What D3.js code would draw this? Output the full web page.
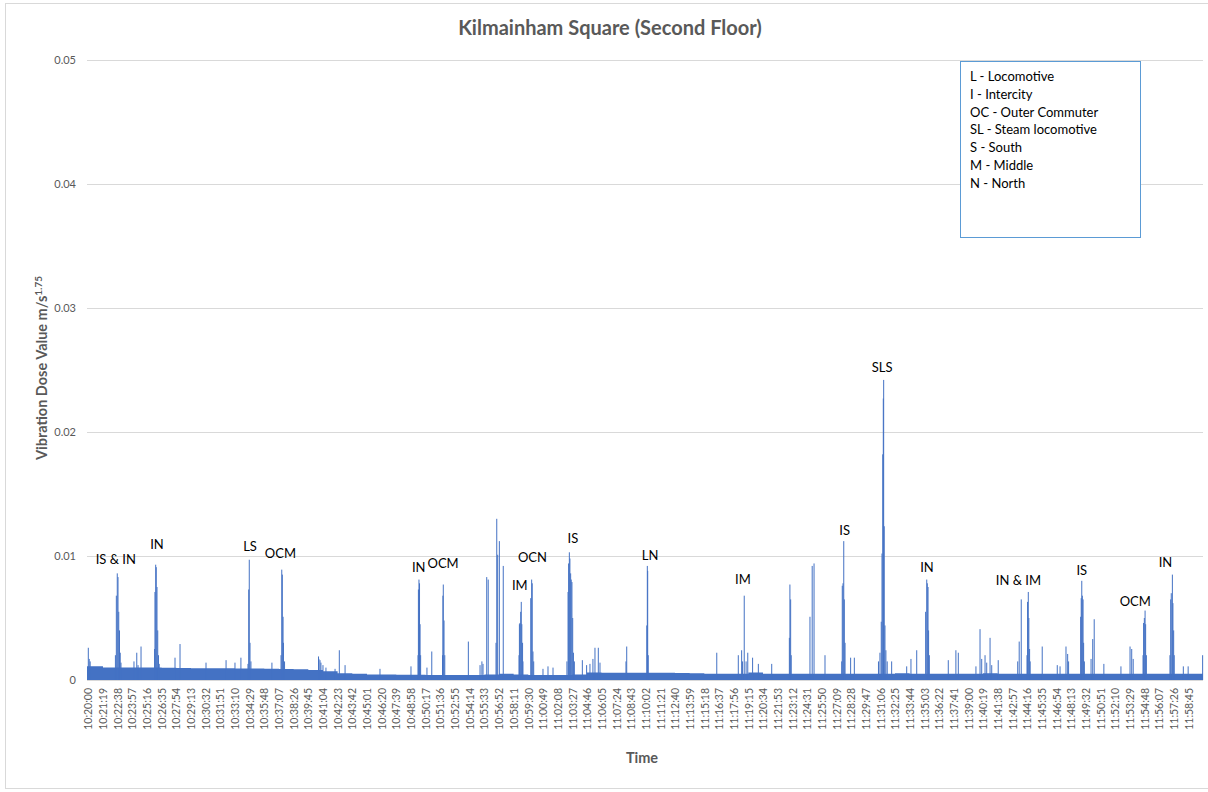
<!DOCTYPE html>
<html><head><meta charset="utf-8">
<script src="https://cdn.jsdelivr.net/npm/d3@7"></script>
<style>body{margin:0;background:#fff} svg{display:block}</style>
</head><body><svg id="c" width="1208" height="792"></svg>
<script>
// ---------- DATA ----------
const title = "Kilmainham Square (Second Floor)";
const xTitle = "Time";
const yTitle = "Vibration Dose Value m/s";
const yTitleSup = "1.75";
const tickLabels = ["10:20:00","10:21:19","10:22:38","10:23:57","10:25:16","10:26:35","10:27:54","10:29:13","10:30:32","10:31:51",
"10:33:10","10:34:29","10:35:48","10:37:07","10:38:26","10:39:45","10:41:04","10:42:23","10:43:42","10:45:01",
"10:46:20","10:47:39","10:48:58","10:50:17","10:51:36","10:52:55","10:54:14","10:55:33","10:56:52","10:58:11",
"10:59:30","11:00:49","11:02:08","11:03:27","11:04:46","11:06:05","11:07:24","11:08:43","11:10:02","11:11:21",
"11:12:40","11:13:59","11:15:18","11:16:37","11:17:56","11:19:15","11:20:34","11:21:53","11:23:12","11:24:31",
"11:25:50","11:27:09","11:28:28","11:29:47","11:31:06","11:32:25","11:33:44","11:35:03","11:36:22","11:37:41",
"11:39:00","11:40:19","11:41:38","11:42:57","11:44:16","11:45:35","11:46:54","11:48:13","11:49:32","11:50:51",
"11:52:10","11:53:29","11:54:48","11:56:07","11:57:26","11:58:45"];
const yTicks = [0, 0.01, 0.02, 0.03, 0.04, 0.05];
// background level in each 79 s label interval (m/s^1.75)
const baseline = [0.0011,0.0010,0.0010,0.0010,0.0010,0.00098,0.00097,0.00095,0.00095,0.00095,
0.00092,0.00092,0.0009,0.00088,0.00086,0.0008,0.0007,0.00055,0.0005,0.00045,
0.00045,0.00042,0.00042,0.0004,0.0004,0.0004,0.0004,0.00045,0.0005,0.00045,
0.0004,0.0004,0.0004,0.00045,0.0006,0.00058,0.00058,0.00058,0.00058,0.00058,
0.00056,0.00055,0.0005,0.0005,0.0005,0.0006,0.0005,0.0005,0.0005,0.0005,
0.0005,0.0005,0.0005,0.0005,0.0005,0.00055,0.0005,0.0005,0.0005,0.0005,
0.0005,0.00055,0.0005,0.0005,0.0005,0.0005,0.0005,0.0005,0.0005,0.0005,
0.0005,0.0005,0.0005,0.0005,0.0005,0.0005];
// individual readings above background: [seconds after 10:20:00, value]
const spikes = [
[0,0.0026],[5,0.0017],[10,0.0015],
[146,0.0020],[151,0.0068],[156,0.0086],[160,0.0083],[164,0.0055],[168,0.0040],[172,0.0022],[176,0.0014],
[246,0.0015],[261,0.0022],[268,0.0012],[284,0.0027],
[357,0.0025],[359,0.0071],[363,0.0093],[366,0.0091],[370,0.0075],[374,0.0040],[378,0.0020],[382,0.0013],
[467,0.0018],[494,0.0029],[634,0.0014],[742,0.0016],[790,0.0014],[822,0.0018],
[860,0.0013],[864,0.0073],[867,0.0097],[871,0.0030],[876,0.0015],
[989,0.0014],
[1038,0.0020],[1042,0.0089],[1045,0.0085],[1049,0.0051],[1051,0.0030],[1057,0.0015],
[1240,0.0019],[1242,0.0017],[1248,0.0016],[1253,0.0014],[1264,0.0012],[1280,0.0010],
[1329,0.0009],[1352,0.0024],[1383,0.0012],[1571,0.0009],[1738,0.0011],
[1776,0.0020],[1778,0.0073],[1781,0.0081],[1784,0.0078],[1787,0.0045],[1790,0.0020],
[1824,0.0010],[1850,0.0023],
[1908,0.0020],[1910,0.0068],[1912,0.0077],[1916,0.0048],[1920,0.0020],
[2047,0.0031],[2110,0.0012],[2120,0.0015],[2126,0.0013],
[2146,0.0083],[2154,0.0081],
[2196,0.0030],[2200,0.0130],[2205,0.0101],[2214,0.0112],[2235,0.0092],
[2320,0.0020],[2322,0.0045],[2325,0.0046],[2329,0.0055],[2332,0.0063],[2335,0.0045],[2339,0.0030],[2341,0.0015],
[2383,0.0066],[2388,0.0081],[2391,0.0078],[2395,0.0023],[2399,0.0015],
[2449,0.0009],[2476,0.0011],[2503,0.0010],
[2578,0.0015],[2584,0.0071],[2587,0.0094],[2591,0.0103],[2594,0.0098],[2598,0.0086],[2601,0.0081],[2605,0.0079],[2609,0.0050],[2613,0.0022],[2618,0.0015],
[2661,0.0016],[2684,0.0012],[2702,0.0013],[2718,0.0017],[2729,0.0026],[2747,0.0026],[2756,0.0014],
[2896,0.0015],[2900,0.0027],
[3008,0.0044],[3011,0.0092],[3013,0.0088],[3016,0.0020],
[3385,0.0022],
[3501,0.0020],[3519,0.0024],[3524,0.0015],[3533,0.0068],[3543,0.0015],[3552,0.0022],[3578,0.0018],[3609,0.0013],[3681,0.0013],
[3776,0.0034],[3779,0.0077],[3783,0.0065],[3786,0.0020],
[3887,0.0051],[3899,0.0092],[3909,0.0094],[3968,0.0020],
[4058,0.0015],[4061,0.0076],[4065,0.0078],[4069,0.0112],[4072,0.0065],[4076,0.0030],
[4106,0.0018],[4126,0.0018],
[4256,0.0015],[4264,0.0022],[4271,0.0047],[4275,0.0102],[4279,0.0182],[4282,0.0227],[4284,0.0242],[4287,0.0124],[4291,0.0044],[4296,0.0024],[4303,0.0015],[4327,0.0015],
[4408,0.0011],[4431,0.0017],[4462,0.0024],
[4510,0.0055],[4516,0.0081],[4519,0.0078],[4523,0.0075],[4526,0.0040],[4530,0.0020],
[4632,0.0016],[4673,0.0024],[4686,0.0022],
[4781,0.0011],[4803,0.0041],[4812,0.0017],[4830,0.0020],[4839,0.0014],[4857,0.0034],[4866,0.0012],[4901,0.0016],
[5006,0.0015],[5014,0.0031],[5025,0.0065],
[5056,0.0020],[5059,0.0063],[5063,0.0071],[5066,0.0050],[5070,0.0025],[5073,0.0015],
[5138,0.0027],[5219,0.0012],[5234,0.0011],[5266,0.0027],[5275,0.0021],[5280,0.0015],
[5345,0.0051],[5348,0.0066],[5351,0.0080],[5354,0.0068],[5358,0.0065],[5361,0.0030],[5365,0.0015],
[5401,0.0017],[5410,0.0033],[5418,0.0049],
[5470,0.0013],[5562,0.0011],
[5611,0.0027],[5620,0.0025],[5628,0.0017],
[5681,0.0020],[5684,0.0046],[5688,0.0050],[5692,0.0056],[5695,0.0045],[5699,0.0020],
[5826,0.0020],[5830,0.0065],[5833,0.0070],[5839,0.0085],[5842,0.0062],[5846,0.0040],[5849,0.0020],
[5898,0.0011],[5924,0.0011],[6002,0.0020]
];
// event labels: [text, seconds after 10:20:00, value at text baseline]
const annotations = [
["IS & IN",148,0.00935],["IN",370,0.01054],["LS",871,0.0104],["OCM",1035,0.00986],
["IN",1780,0.00873],["OCM",1911,0.0090],["IM",2324,0.00726],["OCN",2392,0.00954],
["IS",2610,0.01102],["LN",3026,0.00971],["IM",3526,0.00772],["IS",4074,0.01169],
["SLS",4276,0.02486],["IN",4517,0.00868],["IN & IM",5010,0.00766],["IS",5351,0.00849],
["OCM",5639,0.00597],["IN",5802,0.00909]
];
const legendLines = ["L - Locomotive","I - Intercity","OC - Outer Commuter","SL - Steam locomotive","S - South","M - Middle","N - North"];

// ---------- CHART ----------
const FONT = "Lato, 'Open Sans', sans-serif";
const svg = d3.select("#c").style("font-family", FONT);
const plot = {left:87, right:1203, top:60, bottom:680};
const startSec = 10*3600 + 20*60;
const toSec = s => { const p = s.split(":").map(Number); return p[0]*3600 + p[1]*60 + p[2] - startSec; };
const x = d3.scaleLinear().domain([-7, 6004]).range([plot.left, plot.right]);
const y = d3.scaleLinear().domain([0, 0.05]).range([plot.bottom, plot.top]);

// chart border
svg.append("rect").attr("x",5.5).attr("y",3.5).attr("width",1215).attr("height",785)
  .attr("fill","#fff").attr("stroke","#d9d9d9");

// gridlines
svg.append("g").attr("transform",`translate(${plot.left},0)`)
  .call(d3.axisLeft(y).tickValues(yTicks).tickSize(-(plot.right-plot.left)).tickFormat(""))
  .call(g => g.select(".domain").remove())
  .call(g => g.selectAll("line").attr("stroke","#d9d9d9"));

// y tick labels
svg.append("g").attr("transform",`translate(${plot.left},0)`)
  .call(d3.axisLeft(y).tickValues(yTicks).tickSize(0).tickPadding(11)
    .tickFormat(d => d === 0 ? "0" : d.toFixed(2)))
  .call(g => g.select(".domain").remove())
  .call(g => g.selectAll("text").attr("fill","#595959").style("font-size","11px").style("font-family",FONT));

// baseline as step area
const basePts = baseline.map((v,i) => [i === 0 ? x.domain()[0] : i*79, v]);
basePts.push([x.domain()[1], baseline[baseline.length-1]]);
svg.append("path").datum(basePts)
  .attr("fill","#4472C4")
  .attr("d", d3.area().curve(d3.curveStepAfter).x(d => x(d[0])).y0(y(0)).y1(d => y(d[1])));

// spikes
svg.append("g").selectAll("rect").data(spikes).join("rect")
  .attr("x", d => x(d[0]) - 0.5).attr("width", 1)
  .attr("y", d => y(d[1])).attr("height", d => y(0) - y(d[1]))
  .attr("fill","#4472C4");

// x axis line and labels
svg.append("g").attr("transform",`translate(0,${plot.bottom})`)
  .call(d3.axisBottom(x).tickValues(tickLabels.map(toSec)).tickSize(0)
    .tickFormat((d,i) => tickLabels[i]))
  .call(g => g.select(".domain").attr("stroke","#d9d9d9").attr("d",`M${plot.left},0.5H${plot.right}`))
  .call(g => g.selectAll("text")
    .attr("transform","rotate(-90)").attr("text-anchor","end")
    .attr("x",-8).attr("y",0).attr("dy","0.35em")
    .attr("fill","#595959").style("font-size","10.5px").style("font-family",FONT));

// annotations
svg.append("g").selectAll("text").data(annotations).join("text")
  .attr("x", d => x(d[1])).attr("y", d => y(d[2]))
  .attr("text-anchor","middle").attr("fill","#000").style("font-size","13px")
  .text(d => d[0]);

// title
svg.append("text").attr("x",610).attr("y",35).attr("text-anchor","middle")
  .attr("fill","#595959").style("font-size","20px").style("font-weight","bold").text(title);

// axis titles
svg.append("text").attr("x",642).attr("y",763).attr("text-anchor","middle")
  .attr("fill","#595959").style("font-size","14.5px").style("font-weight","bold").text(xTitle);
const yt = svg.append("text").attr("transform","translate(46.5,368) rotate(-90)")
  .attr("text-anchor","middle").attr("fill","#595959")
  .style("font-size","14.5px").style("font-weight","bold");
yt.append("tspan").text(yTitle);
yt.append("tspan").attr("dy",-5).style("font-size","10px").text(yTitleSup);

// legend box
svg.append("rect").attr("x",960.5).attr("y",61.5).attr("width",180).attr("height",176)
  .attr("fill","#fff").attr("stroke","#5B9BD5");
svg.append("g").selectAll("text").data(legendLines).join("text")
  .attr("x",970).attr("y",(d,i) => 81 + i*17.8)
  .attr("fill","#000").style("font-size","13px").text(d => d);
</script>
</body></html>
